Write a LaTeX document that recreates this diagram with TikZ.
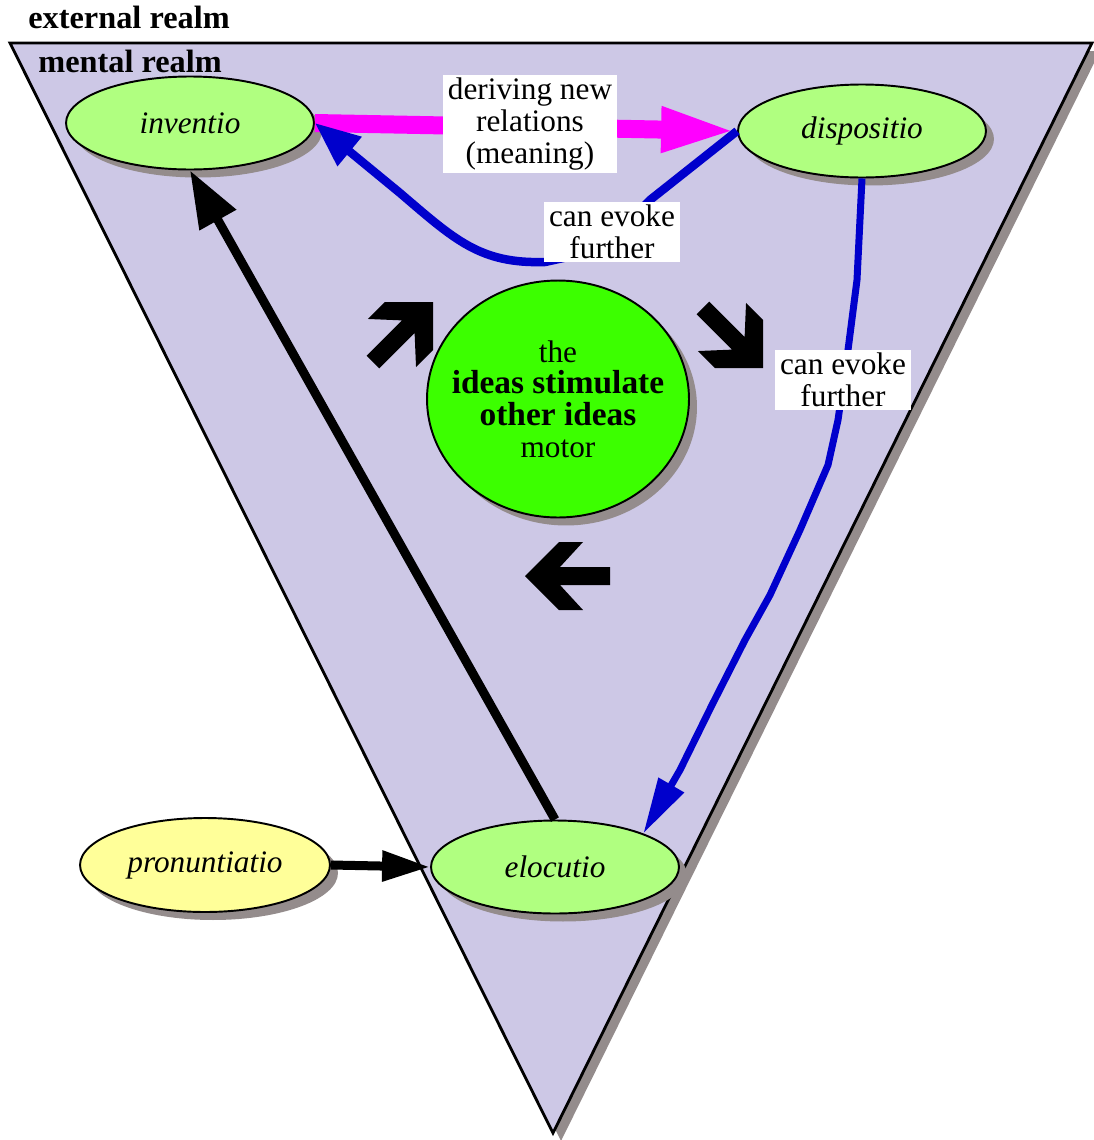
\documentclass[tikz,border=0pt]{standalone}
\usepackage{fontspec}
\setmainfont{Liberation Serif}
\usepackage{xcolor}
\usepackage{tikz}
\usetikzlibrary{shapes.geometric,arrows.meta,shadows}

\definecolor{realmlilac}{HTML}{CDC8E6}
\definecolor{stagegreen}{HTML}{B0FF80}
\definecolor{motorgreen}{HTML}{3CFF00}
\definecolor{shadowgray}{HTML}{948C8C}
\definecolor{spokenyellow}{HTML}{FFFF99}
\definecolor{evokeblue}{HTML}{0000CC}
\definecolor{derivemagenta}{HTML}{FF00FF}

\tikzset{
  stage/.style={ellipse, draw, line width=1.1pt, fill=stagegreen, inner sep=0pt,
    minimum width=4.96cm, minimum height=1.86cm,
    font=\fontsize{17.8}{18}\selectfont\itshape,
    general shadow={shadow xshift=0.16cm, shadow yshift=-0.16cm, fill=shadowgray}},
  tag/.style={fill=white, inner xsep=3pt, inner ysep=2pt, align=center,
    font=\fontsize{17.8}{18}\selectfont},
  realm/.style={anchor=base west, inner sep=0pt, font=\fontsize{18.4}{18}\selectfont\bfseries},
  evoke/.style={draw=evokeblue, line join=round, -{Triangle[length=0.9cm, width=0.72cm]}},
}

% block arrow round the motor: tip at #1, pointing at #2 degrees
\newcommand{\motorarrow}[2]{%
  \fill[shift={#1}, rotate=#2] (0,0) -- (-34,34) -- (-58,34) -- (-35,9) -- (-85,9)
    -- (-85,-9) -- (-35,-9) -- (-58,-34) -- (-34,-34) -- cycle;}

\begin{document}
\begin{tikzpicture}[x=0.02cm, y=-0.02cm]
  \useasboundingbox (0,0) rectangle (1094,1140);

  % Mental realm triangle
  \fill[shadowgray] (18,51) -- (1100,51) -- (561,1141) -- cycle;
  \draw[line width=1.6pt, fill=realmlilac, line join=miter] (10,43) -- (1092,43) -- (553,1133) -- cycle;
  \node[realm] (external) at (28,28) {external realm};
  \node[realm] (mental) at (38,72) {mental realm};

  % Rhetoric stages
  \node[stage] (inventio) at (190,123) {inventio};
  \node[stage] (dispositio) at (862,131) {dispositio};
  \node[stage] (elocutio) at (555,867) {elocutio};
  \node[stage, fill=spokenyellow, minimum width=5cm, minimum height=1.88cm] (pronuntiatio) at (205,865) {pronuntiatio};

  % Motor
  \node[ellipse, draw, line width=1.1pt, fill=motorgreen, inner sep=0pt,
    minimum width=5.24cm, minimum height=4.74cm,
    general shadow={shadow xshift=0.16cm, shadow yshift=-0.16cm, fill=shadowgray}]
    (motor) at (558,399) {};
  \node[align=center, font=\fontsize{17.8}{18}\selectfont] (motortext) at (motor.center)
    {the\\\fontsize{19}{18}\selectfont\textbf{ideas stimulate}\\
      \fontsize{19}{18}\selectfont\textbf{other ideas}\\motor};
  \motorarrow{(433,302)}{45}
  \motorarrow{(763,368)}{-45}
  \motorarrow{(525,576)}{180}

  % Connectors
  \draw[derivemagenta, line width=0.36cm, -{Triangle[length=1.52cm, width=0.82cm]}]
    (inventio.east) -- (dispositio.west);
  \draw[evoke, line width=0.17cm] (dispositio.west) -- (650,200) -- (600,250) -- (545,262)
    .. controls (480,264) and (455,240) .. (400,193) -- (inventio.east);
  \draw[evoke, line width=0.14cm, -{Triangle[length=1.12cm, width=0.56cm]}]
    (dispositio.south) -- (857,280) -- (848,350) -- (838,420) -- (828,465) -- (800,530)
    -- (770,595) -- (745,640) -- (712,705) -- (680,770) -- (elocutio.north east);
  \draw[line width=0.18cm, -{Triangle[length=1.14cm, width=0.8cm]}]
    (elocutio.north) -- (inventio.south);
  \draw[line width=0.18cm, -{Triangle[length=0.96cm, width=0.58cm]}]
    (pronuntiatio.east) -- (elocutio.west);

  % Labels
  \node[tag] (derive) at (530,124) {deriving new\\relations\\(meaning)};
  \node[tag] (evokeA) at (612,232) {can evoke\\further};
  \node[tag] (evokeB) at (843,380) {can evoke\\further};
\end{tikzpicture}
\end{document}
